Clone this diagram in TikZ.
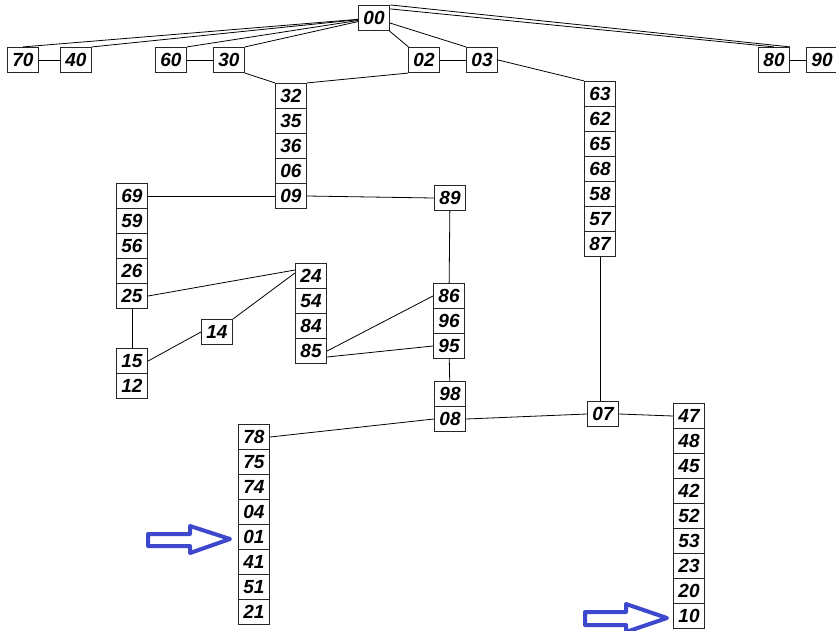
\documentclass[tikz,border=0pt]{standalone}
\usepackage{fontspec}
\setmainfont{Liberation Sans}
\usepackage{tikz}
\definecolor{pointerblue}{RGB}{62,72,205}

\begin{document}
\begin{tikzpicture}[x=1pt,y=1pt,yscale=-1,
  cell/.style={draw=black!85,line width=1.2pt,minimum width=31pt,minimum height=25pt,inner sep=0pt,
    font=\fontsize{19}{19}\selectfont\bfseries\itshape},
  link/.style={line width=0.8pt},
  pointer/.style={draw=pointerblue,line width=4pt,line join=round,fill=white}]
\useasboundingbox (0,0) rectangle (836,630);

% top row
\node[cell] (n00) at (374,18) {00};
\node[cell] (n70) at (23,60) {70};
\node[cell] (n40) at (76,60) {40};
\node[cell] (n60) at (171,60) {60};
\node[cell] (n30) at (229,60) {30};
\node[cell] (n02) at (424,60) {02};
\node[cell] (n03) at (482,60) {03};
\node[cell] (n80) at (774,60) {80};
\node[cell] (n90) at (822,60) {90};

% column under 30 and 02
\node[cell] (n32) at (291,96) {32};
\node[cell] (n35) at (291,121) {35};
\node[cell] (n36) at (291,146) {36};
\node[cell] (n06) at (291,171) {06};
\node[cell] (n09) at (291,196) {09};

% column under 03
\node[cell] (n63) at (600,94) {63};
\node[cell] (n62) at (600,119) {62};
\node[cell] (n65) at (600,144) {65};
\node[cell] (n68) at (600,169) {68};
\node[cell] (n58) at (600,194) {58};
\node[cell] (n57) at (600,219) {57};
\node[cell] (n87) at (600,244) {87};

% left column
\node[cell] (n69) at (132,196) {69};
\node[cell] (n59) at (132,221) {59};
\node[cell] (n56) at (132,246) {56};
\node[cell] (n26) at (132,271) {26};
\node[cell] (n25) at (132,296) {25};
\node[cell] (n15) at (132,361) {15};
\node[cell] (n12) at (132,386) {12};
\node[cell] (n14) at (217,332) {14};

% column 24
\node[cell] (n24) at (311,276) {24};
\node[cell] (n54) at (311,301) {54};
\node[cell] (n84) at (311,326) {84};
\node[cell] (n85) at (311,351) {85};

% middle
\node[cell] (n89) at (450,198) {89};
\node[cell] (n86) at (449,296) {86};
\node[cell] (n96) at (449,321) {96};
\node[cell] (n95) at (449,346) {95};
\node[cell] (n98) at (450,394) {98};
\node[cell] (n08) at (450,419) {08};
\node[cell] (n07) at (603,414) {07};

% column 78
\node[cell] (n78) at (254,437) {78};
\node[cell] (n75) at (254,462) {75};
\node[cell] (n74) at (254,487) {74};
\node[cell] (n04) at (254,512) {04};
\node[cell] (n01) at (254,537) {01};
\node[cell] (n41) at (254,562) {41};
\node[cell] (n51) at (254,587) {51};
\node[cell] (n21) at (254,612) {21};

% column 47
\node[cell] (n47) at (689,416) {47};
\node[cell] (n48) at (689,441) {48};
\node[cell] (n45) at (689,466) {45};
\node[cell] (n42) at (689,491) {42};
\node[cell] (n52) at (689,516) {52};
\node[cell] (n53) at (689,541) {53};
\node[cell] (n23) at (689,566) {23};
\node[cell] (n20) at (689,591) {20};
\node[cell] (n10) at (689,616) {10};

% lines from 00
\draw[link] (n00) -- (n70.north);
\draw[link] (n00) -- (n40.north east);
\draw[link] (n00) -- (n60.north east);
\draw[link] (n00) -- (n30.north east);
\draw[link] (n00) -- (n02);
\draw[link] (n00) -- (n03.north west);
\draw[link] (n00.north east) -- (n80.north east);
\draw[link] ([yshift=4pt]n00.north east) -- (n80.north);

% top row pairs
\draw[link] (n70) -- (n40);
\draw[link] (n60) -- (n30);
\draw[link] (n02) -- (n03);
\draw[link] (n80) -- (n90);

% down to the columns
\draw[link] (n30.south east) -- (n32.north west);
\draw[link] (n02.south west) -- (n32.north east);
\draw[link] (n03.east) -- (n63.north west);
\draw[link] (n69) -- (n09);
\draw[link] (n09.east) -- (n89.west);
\draw[link] (n25.east) -- ([yshift=-6pt]n24.west);
\draw[link] (n25) -- (n15);
\draw[link] (n15.east) -- (n14.west);
\draw[link] (n14.north east) -- ([yshift=-3pt]n24.west);
\draw[link] (n89) -- (n86);
\draw[link] (n85.east) -- (n86.west);
\draw[link] ([yshift=6pt]n85.east) -- (n95.west);
\draw[link] (n95) -- (n98);
\draw[link] (n08.west) -- (n78.east);
\draw[link] (n08.east) -- (n07.west);
\draw[link] (n87) -- (n87 |- n07.north);
\draw[link] (n07.east) -- (n47.west);

% blue pointers
\draw[pointer] (148,534) -- (190,534) -- (190,526) -- (230,539) -- (190,553) -- (190,546) -- (148,546) -- cycle;
\draw[pointer] (585,612) -- (626,612) -- (626,604) -- (667,618) -- (626,632) -- (626,625) -- (585,625) -- cycle;

\end{tikzpicture}
\end{document}
